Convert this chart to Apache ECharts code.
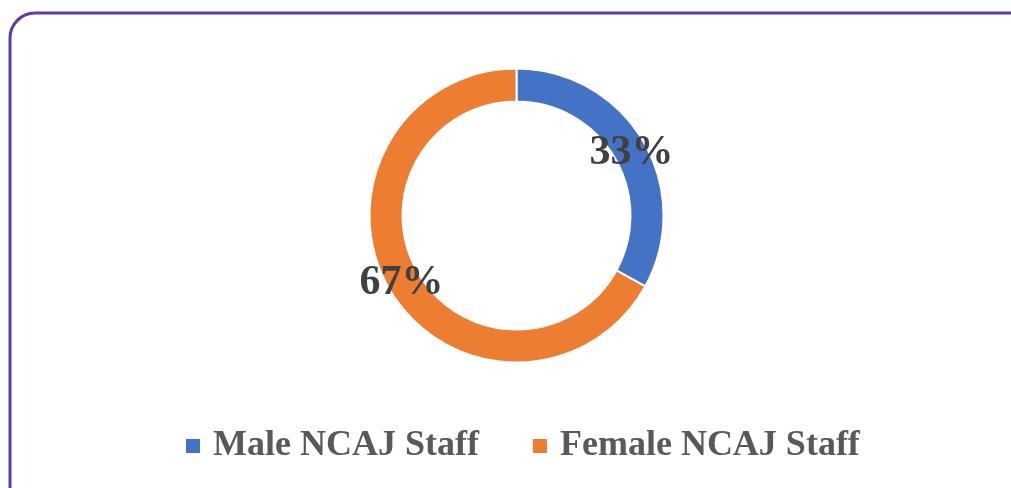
<!DOCTYPE html>
<html>
<head>
<meta charset="utf-8">
<script src="https://cdn.jsdelivr.net/npm/echarts@6/dist/echarts.min.js"></script>
<style>
html, body { margin: 0; padding: 0; background: #fff; }
#chart { width: 1011px; height: 488px; }
</style>
</head>
<body>
<div id="chart"></div>
<script>
// staff split by gender
var categories = ['Male NCAJ Staff', 'Female NCAJ Staff'];
var shares = [33, 67];
var colors = ['#4472c4', '#ed7d31'];
var labelShift = [[0, 6], [0, 0]];

var chart = echarts.init(document.getElementById('chart'));

chart.setOption({
    animation: false,
    color: colors,
    graphic: [{
        type: 'rect',
        shape: { x: 10, y: 13, width: 1030, height: 500, r: 25 },
        style: { fill: 'none', stroke: '#5e3ea1', lineWidth: 3 },
        silent: true
    }],
    legend: {
        data: categories,
        left: 181,
        top: 423,
        icon: 'rect',
        itemWidth: 14,
        itemHeight: 14,
        itemGap: 54,
        itemStyle: { borderWidth: 0 },
        textStyle: {
            fontFamily: 'Liberation Serif',
            fontWeight: 'bold',
            fontSize: 36,
            color: '#595959',
            padding: [0, 0, 0, 8]
        }
    },
    series: [{
        type: 'pie',
        center: [516.5, 215.5],
        radius: [114, 147],
        startAngle: 90,
        clockwise: true,
        percentPrecision: 0,
        itemStyle: { borderColor: '#fff', borderWidth: 2 },
        label: {
            position: 'inside',
            formatter: '{d}%',
            fontFamily: 'Liberation Serif',
            fontWeight: 'bold',
            fontSize: 42,
            color: '#404040'
        },
        labelLine: { show: false },
        data: categories.map(function (name, i) {
            return { name: name, value: shares[i], label: { offset: labelShift[i] } };
        })
    }]
});

window.onresize = function () {
    chart.resize();
};
</script>
</body>
</html>
